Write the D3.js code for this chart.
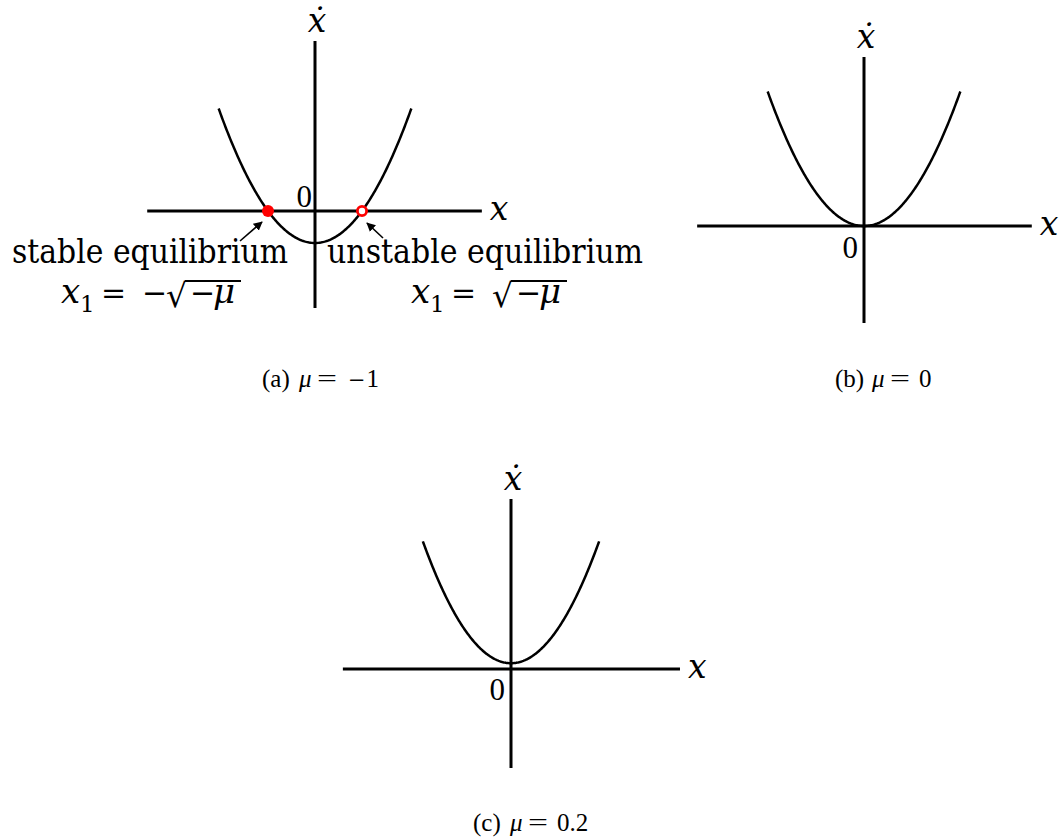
<!DOCTYPE html>
<html>
<head>
<meta charset="utf-8">
<script src="https://cdn.jsdelivr.net/npm/d3@7"></script>
<style>
  body { margin: 0; background: #fff; }
  svg { display: block; }
</style>
</head>
<body>
<svg id="fig" width="1061" height="839"></svg>
<script>
// Saddle-node normal form  xdot = mu + x^2, drawn for three values of mu.
const panelTags = ["(a)", "(b)", "(c)"];
const muValues = [-1, 0, 0.2];
const muLabels = ["\u22121", "0", "0.2"];

// Axis extents of each panel, in (x, xdot) units.
const axisXMin = [-3.57, -3.55, -3.91];
const axisXMax = [3.55, 3.57, 3.93];
const axisYMin = [-3.03, -3.03, -3.41];
const axisYMax = [5.31, 5.28, 5.86];

// x interval over which the parabola is traced.
const curveXRange = [-2.05, 2.05];

const equilibriumNames = ["stable equilibrium", "unstable equilibrium"];

// Placement of each panel: origin in pixels and pixels per unit.
const layout = [
  { ox: 315, oy: 211, kx: 47, ky: 32, zeroDx: -3, zeroDy: -4, capX: 262, capY: 387 },
  { ox: 864, oy: 226, kx: 47, ky: 32, zeroDx: -6, zeroDy: 32, capX: 835, capY: 387 },
  { ox: 511, oy: 669, kx: 43, ky: 29, zeroDx: -6, zeroDy: 31, capX: 473, capY: 831 }
];

const svg = d3.select("#fig");
const MATH = "'DejaVu Serif', serif";
const CAP = "'Liberation Serif', 'Times New Roman', serif";

// arrowhead for the equilibrium call-outs
svg.append("defs").append("marker")
  .attr("id", "head")
  .attr("viewBox", "0 0 10 10")
  .attr("refX", 9).attr("refY", 5)
  .attr("markerWidth", 9).attr("markerHeight", 9)
  .attr("markerUnits", "userSpaceOnUse")
  .attr("orient", "auto")
  .append("path").attr("d", "M0,0 L10,5 L0,10 Z").attr("fill", "#000");

layout.forEach((L, i) => {
  const mu = muValues[i];
  const x = d3.scaleLinear()
    .domain([axisXMin[i], axisXMax[i]])
    .range([L.ox + L.kx * axisXMin[i], L.ox + L.kx * axisXMax[i]]);
  const y = d3.scaleLinear()
    .domain([axisYMin[i], axisYMax[i]])
    .range([L.oy - L.ky * axisYMin[i], L.oy - L.ky * axisYMax[i]]);

  const g = svg.append("g");

  // axes
  g.append("line")
    .attr("x1", x(axisXMin[i])).attr("x2", x(axisXMax[i]))
    .attr("y1", y(0)).attr("y2", y(0))
    .attr("stroke", "#000").attr("stroke-width", 3);
  g.append("line")
    .attr("x1", x(0)).attr("x2", x(0))
    .attr("y1", y(axisYMin[i])).attr("y2", y(axisYMax[i]))
    .attr("stroke", "#000").attr("stroke-width", 3);

  // parabola xdot = mu + x^2
  const n = 200;
  const xs = d3.range(n + 1).map(k => curveXRange[0] + (curveXRange[1] - curveXRange[0]) * k / n);
  const line = d3.line().x(d => x(d)).y(d => y(mu + d * d));
  g.append("path").datum(xs)
    .attr("d", line)
    .attr("fill", "none").attr("stroke", "#000").attr("stroke-width", 2.5);

  // axis labels
  g.append("text")
    .attr("x", x(0) + 2).attr("y", y(axisYMax[i]) - 9)
    .attr("text-anchor", "middle")
    .attr("font-family", MATH).attr("font-style", "italic").attr("font-size", 33)
    .text("\u1E8B");
  g.append("text")
    .attr("x", x(axisXMax[i]) + 8).attr("y", y(0) + 9)
    .attr("font-family", MATH).attr("font-style", "italic").attr("font-size", 33)
    .text("x");
  g.append("text")
    .attr("x", x(0) + L.zeroDx).attr("y", y(0) + L.zeroDy)
    .attr("text-anchor", "end")
    .attr("font-family", CAP).attr("font-size", 31)
    .text("0");

  // equilibria x1 = -sqrt(-mu) (stable) and +sqrt(-mu) (unstable)
  if (mu < 0) {
    const roots = [-Math.sqrt(-mu), Math.sqrt(-mu)];
    const arrows = [
      { tail: [-28, 30], head: [-6, 11] },
      { tail: [21, 27], head: [5, 12] }
    ];
    roots.forEach((r, j) => {
      const px = x(r), py = y(0);
      g.append("line")
        .attr("x1", px + arrows[j].tail[0]).attr("y1", py + arrows[j].tail[1])
        .attr("x2", px + arrows[j].head[0]).attr("y2", py + arrows[j].head[1])
        .attr("stroke", "#000").attr("stroke-width", 1.6)
        .attr("marker-end", "url(#head)");
    });
    // stable point: filled; unstable point: open ring
    g.append("circle").attr("cx", x(roots[0])).attr("cy", y(0)).attr("r", 6)
      .attr("fill", "#ff0000");
    g.append("circle").attr("cx", x(roots[1])).attr("cy", y(0)).attr("r", 4.6)
      .attr("fill", "#fff").attr("stroke", "#ff0000").attr("stroke-width", 2.8);

    // names of the equilibria
    const nameX = [12, 327], nameW = [276, 316];
    equilibriumNames.forEach((name, j) => {
      g.append("text")
        .attr("x", nameX[j]).attr("y", 263)
        .attr("font-family", MATH).attr("font-size", 33)
        .attr("textLength", nameW[j]).attr("lengthAdjust", "spacingAndGlyphs")
        .text(name);
    });

    // x1 = -sqrt(-mu)   and   x1 = sqrt(-mu)
    const drawRoot = (x0, base, negative) => {
      const t = g.append("g").attr("font-family", MATH).attr("font-size", 30);
      t.append("text").attr("x", x0 - 1).attr("y", base).attr("font-style", "italic")
        .attr("font-size", 34).text("x");
      t.append("text").attr("x", x0 + 18).attr("y", base + 9).attr("font-size", 23).text("1");
      t.append("text").attr("x", x0 + 39).attr("y", base).text("=");
      let r0 = x0 + 80;
      if (negative) {
        t.append("text").attr("x", x0 + 80).attr("y", base).text("\u2212");
        r0 = x0 + 104;
      }
      t.append("text").attr("x", r0).attr("y", base + 4).attr("font-size", 33).text("\u221A");
      t.append("line")
        .attr("x1", r0 + 19).attr("x2", r0 + 75)
        .attr("y1", base - 22).attr("y2", base - 22)
        .attr("stroke", "#000").attr("stroke-width", 2);
      t.append("text").attr("x", r0 + 24).attr("y", base).text("\u2212");
      t.append("text").attr("x", r0 + 47).attr("y", base).attr("font-style", "italic")
        .attr("font-size", 34).text("\u03BC");
    };
    drawRoot(62, 303, true);
    drawRoot(412, 303, false);
  }

  // caption
  const c = svg.append("g").attr("font-family", CAP).attr("font-size", 25);
  c.append("text").attr("x", L.capX).attr("y", L.capY).text(panelTags[i]);
  c.append("text").attr("x", L.capX + 37).attr("y", L.capY).attr("font-style", "italic").text("\u03BC");
  c.append("text").attr("x", L.capX + 55).attr("y", L.capY)
    .attr("textLength", 20).attr("lengthAdjust", "spacingAndGlyphs").text("=");
  // value after "="; a leading minus is set wide, as in the equation font
  const label = muLabels[i];
  const v = c.append("text").attr("x", L.capX + 84).attr("y", L.capY);
  if (label.startsWith("\u2212")) {
    v.attr("x", L.capX + 86);
    v.append("tspan").attr("font-family", MATH).attr("font-size", 21).text("\u2212");
    v.append("tspan").attr("dx", 1).text(label.slice(1));
  } else {
    v.text(label);
  }
});
</script>
</body>
</html>
